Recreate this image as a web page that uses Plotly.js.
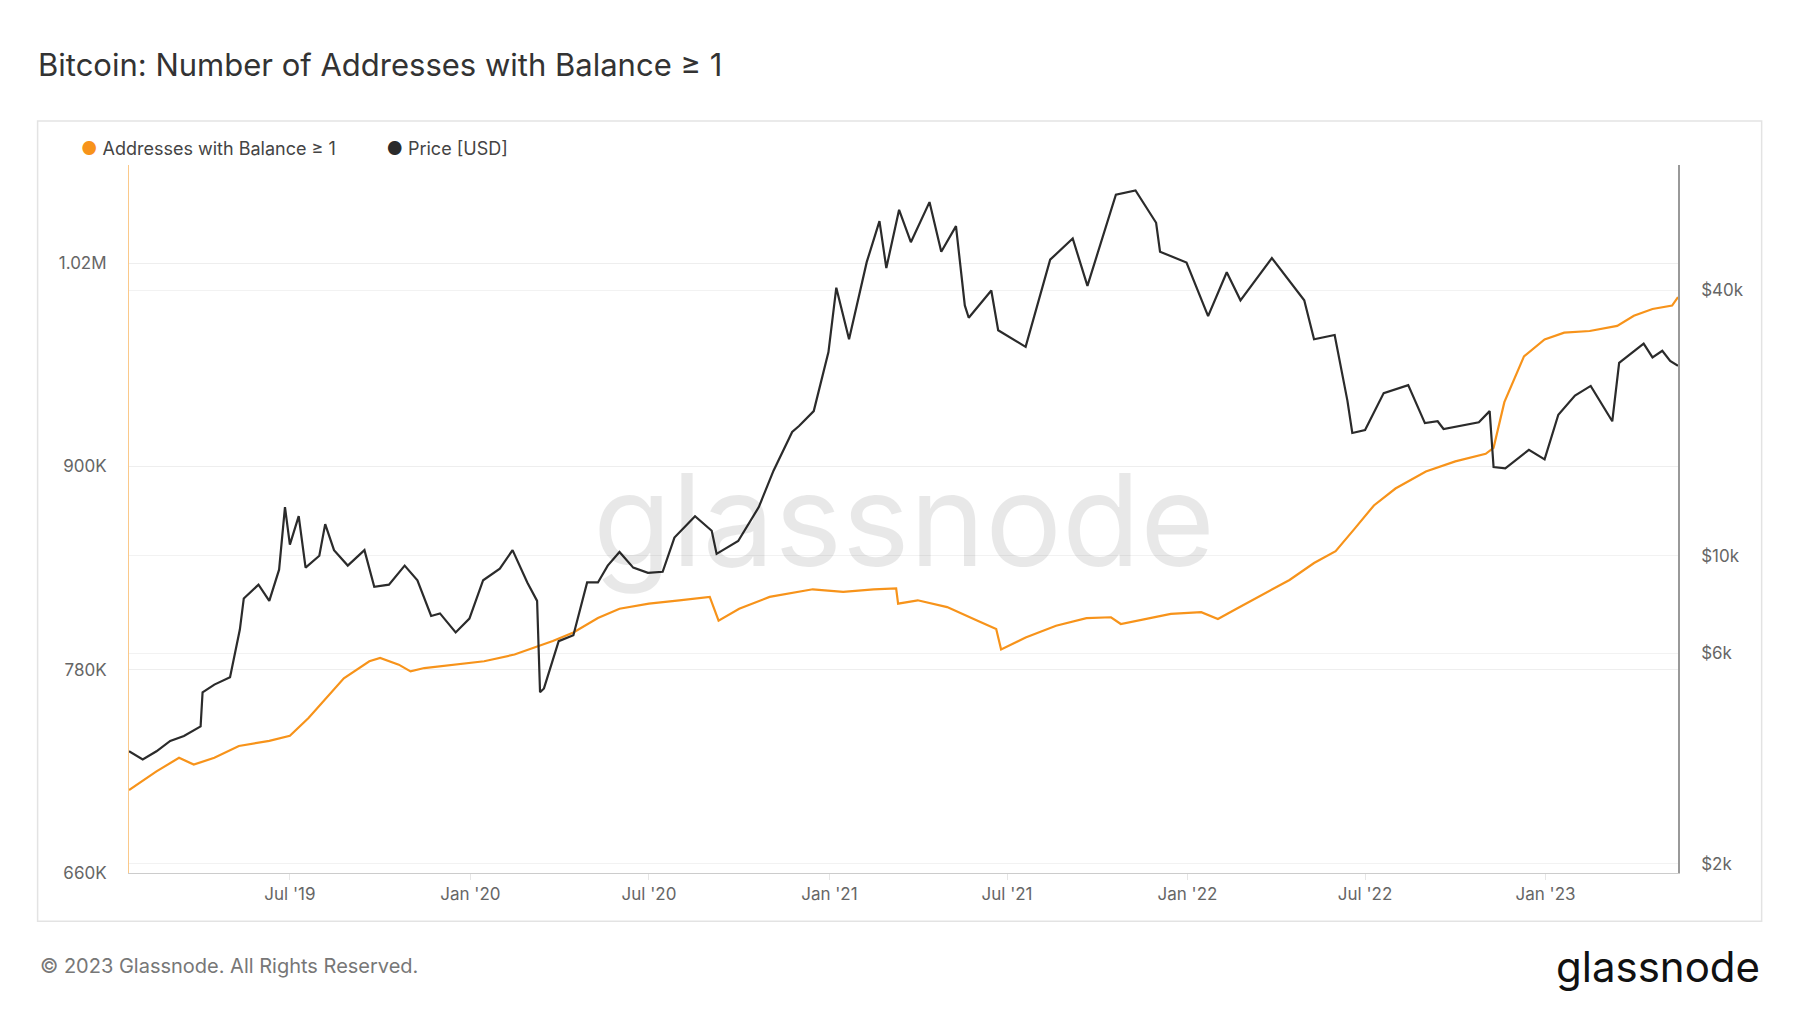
<!DOCTYPE html>
<html>
<head>
<meta charset="utf-8">
<script src="https://cdn.plot.ly/plotly-3.0.1.min.js"></script>
<style>body{margin:0;background:#fff}#chart{width:1800px;height:1013px}</style>
</head>
<body>
<div id="chart"></div>
<script>
const addrDates = ['2019-01-18','2019-02-15','2019-03-10','2019-03-25','2019-04-15','2019-05-10','2019-06-10','2019-07-01','2019-07-20','2019-08-10','2019-08-25','2019-09-20','2019-10-01','2019-10-20','2019-11-01','2019-11-15','2019-12-15','2020-01-15','2020-02-15','2020-03-10','2020-03-25','2020-04-15','2020-05-10','2020-06-01','2020-07-01','2020-08-01','2020-09-01','2020-09-10','2020-10-01','2020-11-01','2020-12-15','2021-01-15','2021-02-15','2021-03-10','2021-03-12','2021-04-01','2021-05-01','2021-06-01','2021-06-20','2021-06-25','2021-07-20','2021-08-20','2021-09-20','2021-10-15','2021-10-25','2021-11-20','2021-12-15','2022-01-15','2022-02-01','2022-02-20','2022-03-20','2022-04-15','2022-05-10','2022-06-01','2022-06-20','2022-07-10','2022-08-01','2022-09-01','2022-10-01','2022-11-01','2022-11-09','2022-11-20','2022-12-10','2022-12-31','2023-01-20','2023-02-15','2023-03-15','2023-04-01','2023-04-20','2023-05-10','2023-05-16'];
const addrValues = [709,720,728,724,728,735,738,741,751.5,765,775,785,787,783,779,781,783,785,789,794,797,802,810.5,816,819,821,823,809,816,823,827.5,826,827.5,828,819,821,817,809,804,792,799,806,810.5,811,807,810,813,814,810,816,825,833,843,850,863,877,887,897,903,907.5,911,938,965,975,979,980,983,989,993,995,1000].map(v => v * 1000);

const priceDates = ['2019-01-18','2019-02-01','2019-02-15','2019-03-01','2019-03-15','2019-04-01','2019-04-03','2019-04-15','2019-05-01','2019-05-11','2019-05-15','2019-05-30','2019-06-10','2019-06-20','2019-06-26','2019-07-01','2019-07-10','2019-07-17','2019-07-31','2019-08-06','2019-08-15','2019-08-29','2019-09-15','2019-09-25','2019-10-10','2019-10-26','2019-11-08','2019-11-22','2019-12-01','2019-12-17','2019-12-31','2020-01-14','2020-01-31','2020-02-13','2020-02-28','2020-03-09','2020-03-12','2020-03-16','2020-03-31','2020-04-15','2020-04-29','2020-05-10','2020-05-20','2020-06-01','2020-06-15','2020-06-30','2020-07-15','2020-07-27','2020-08-17','2020-09-03','2020-09-08','2020-09-30','2020-10-21','2020-11-05','2020-11-24','2020-12-01','2020-12-16','2020-12-31','2021-01-08','2021-01-21','2021-02-08','2021-02-21','2021-02-28','2021-03-13','2021-03-25','2021-04-13','2021-04-25','2021-05-10','2021-05-19','2021-05-23','2021-06-15','2021-06-22','2021-07-20','2021-08-14','2021-09-06','2021-09-21','2021-10-20','2021-11-09','2021-11-30','2021-12-04','2021-12-31','2022-01-22','2022-02-10','2022-02-24','2022-03-28','2022-04-30','2022-05-10','2022-05-31','2022-06-13','2022-06-18','2022-07-01','2022-07-20','2022-08-14','2022-08-31','2022-09-13','2022-09-19','2022-10-25','2022-11-05','2022-11-09','2022-11-21','2022-12-15','2022-12-31','2023-01-14','2023-01-31','2023-02-16','2023-03-10','2023-03-17','2023-04-11','2023-04-20','2023-04-30','2023-05-08','2023-05-16'];
const priceValues = [3600,3450,3600,3800,3900,4100,4900,5100,5300,6800,8000,8600,7900,9300,12900,10600,12300,9400,10000,11800,10300,9500,10300,8500,8600,9500,8800,7300,7400,6700,7200,8800,9350,10300,8700,7900,4900,5000,6400,6600,8700,8700,9500,10200,9400,9150,9200,11000,12300,11400,10100,10800,12900,15600,19100,19700,21300,29000,40600,31000,46400,57500,45000,61000,51500,63500,49000,56000,37000,34700,40000,32500,29800,47000,52500,41000,66000,67500,57000,49000,46300,35000,44000,38000,47400,38000,31000,31700,22500,19000,19300,23400,24400,20000,20200,19400,20100,21300,15900,15800,17400,16550,20900,23100,24300,20200,27400,30300,28200,29200,27700,27000];

const leftTicks = [660000, 780000, 900000, 1020000];
const leftLabels = ['660K', '780K', '900K', '1.02M'];
const rightTicks = [2000, 6000, 10000, 40000];
const rightLabels = ['$2k', '$6k', '$10k', '$40k'];
const xTicks = ['2019-07-01','2020-01-01','2020-07-01','2021-01-01','2021-07-01','2022-01-01','2022-07-01','2023-01-01'];
const xLabels = ["Jul '19","Jan '20","Jul '20","Jan '21","Jul '21","Jan '22","Jul '22","Jan '23"];

const orange = '#f7931a';
const dark = '#2b2b2b';
const tickFont = {family: 'Inter', size: 17, color: '#666'};

const traces = [
  {x: priceDates, y: priceValues, yaxis: 'y2', type: 'scatter', mode: 'lines', name: 'Price [USD]',
   line: {color: dark, width: 2.2}},
  {x: addrDates, y: addrValues, type: 'scatter', mode: 'lines', name: 'Addresses with Balance ≥ 1',
   line: {color: orange, width: 2.2}}
];

const layout = {
  width: 1800, height: 1013,
  margin: {l: 129, r: 122, t: 165, b: 140},
  paper_bgcolor: '#fff', plot_bgcolor: '#fff',
  showlegend: false,
  font: {family: 'Inter'},
  title: {text: 'Bitcoin: Number of Addresses with Balance ≥ 1', x: 38 / 1800, xanchor: 'left', y: 1 - 65 / 1013, yanchor: 'middle',
          font: {family: 'Inter', size: 31, color: '#333'}},
  xaxis: {type: 'date', range: ['2019-01-18', '2023-05-16'], tickvals: xTicks, ticktext: xLabels,
          showgrid: false, showline: true, linecolor: '#ccc', ticks: 'outside', ticklen: 6, tickcolor: '#e6e6e6',
          tickfont: tickFont},
  yaxis: {range: [660000, 1078000], tickvals: leftTicks, ticktext: leftLabels, showgrid: true, gridcolor: '#eeeeee',
          zeroline: false, showline: true, linecolor: '#fbc98a', linewidth: 1, ticks: '', ticklabelstandoff: 18, tickfont: tickFont},
  yaxis2: {type: 'log', range: [3.28, 4.887], overlaying: 'y', side: 'right', tickvals: rightTicks, ticktext: rightLabels,
           showgrid: true, gridcolor: '#f2f2f2', zeroline: false, showline: true, linecolor: '#999', linewidth: 1.5, ticks: '', ticklabelstandoff: 18, tickfont: tickFont},
  shapes: [
    {type: 'rect', xref: 'paper', yref: 'paper', x0: -0.059, x1: 1.054, y0: -0.068, y1: 1.062,
     line: {color: '#e3e3e3', width: 1.5}, layer: 'below'}
  ],
  annotations: [
    {xref: 'paper', yref: 'paper', x: -0.032, y: 1.023, xanchor: 'left', yanchor: 'middle', showarrow: false,
     text: '<span style="color:' + orange + '">●</span> Addresses with Balance ≥ 1          <span style="color:' + dark + '">●</span> Price [USD]',
     font: {family: 'Inter', size: 18, color: '#444'}},
    {xref: 'paper', yref: 'paper', x: 0.5, y: 0.5, xanchor: 'center', yanchor: 'middle', showarrow: false,
     text: 'glassnode', font: {family: 'Inter', size: 128, color: 'rgba(0,0,0,0.09)'}},
    {xref: 'paper', yref: 'paper', x: -0.059, y: -0.132, xanchor: 'left', yanchor: 'middle', showarrow: false,
     text: '© 2023 Glassnode. All Rights Reserved.', font: {family: 'Inter', size: 20, color: '#777'}},
    {xref: 'paper', yref: 'paper', x: 1.054, y: -0.132, xanchor: 'right', yanchor: 'middle', showarrow: false,
     text: 'glassnode', font: {family: 'Inter', size: 42, color: '#111'}}
  ]
};

Plotly.newPlot('chart', traces, layout, {displayModeBar: false});
</script>
</body>
</html>
